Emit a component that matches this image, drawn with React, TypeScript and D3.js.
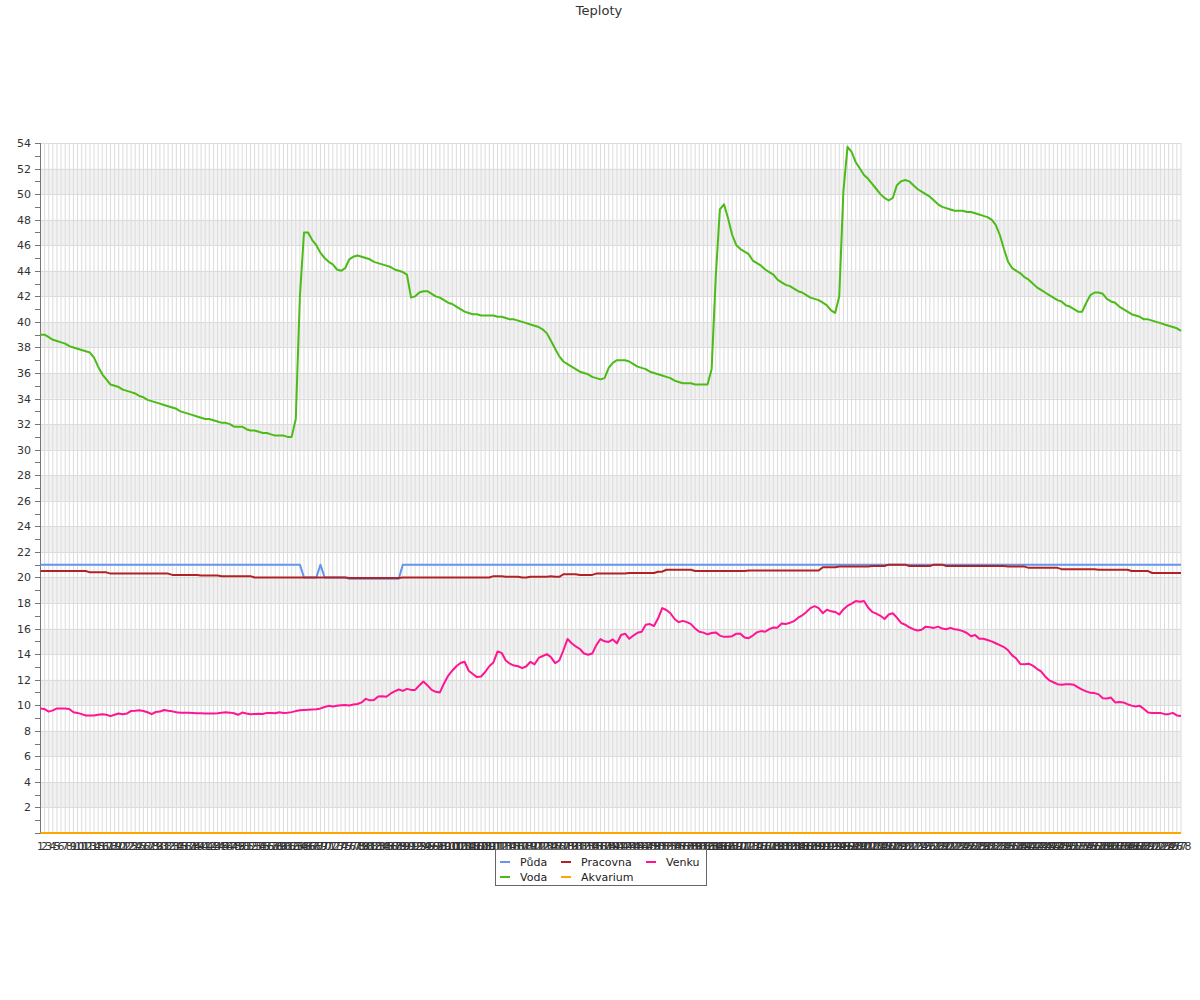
import * as React from 'react';
import { useEffect, useRef } from 'react';
import * as d3 from 'd3';

// category labels along the bottom (sample numbers)
const labels = d3.range(1, 279).map(String);

const puda = [
  21, 21, 21, 21, 21, 21, 21, 21, 21, 21,
  21, 21, 21, 21, 21, 21, 21, 21, 21, 21,
  21, 21, 21, 21, 21, 21, 21, 21, 21, 21,
  21, 21, 21, 21, 21, 21, 21, 21, 21, 21,
  21, 21, 21, 21, 21, 21, 21, 21, 21, 21,
  21, 21, 21, 21, 21, 21, 21, 21, 21, 21,
  21, 21, 21, 21, 20, 20, 20, 20, 21, 20,
  20, 20, 20, 20, 20, 19.9, 19.9, 19.9, 19.9, 19.9,
  19.9, 19.9, 19.9, 19.9, 19.9, 19.9, 19.9, 19.9, 21, 21,
  21, 21, 21, 21, 21, 21, 21, 21, 21, 21,
  21, 21, 21, 21, 21, 21, 21, 21, 21, 21,
  21, 21, 21, 21, 21, 21, 21, 21, 21, 21,
  21, 21, 21, 21, 21, 21, 21, 21, 21, 21,
  21, 21, 21, 21, 21, 21, 21, 21, 21, 21,
  21, 21, 21, 21, 21, 21, 21, 21, 21, 21,
  21, 21, 21, 21, 21, 21, 21, 21, 21, 21,
  21, 21, 21, 21, 21, 21, 21, 21, 21, 21,
  21, 21, 21, 21, 21, 21, 21, 21, 21, 21,
  21, 21, 21, 21, 21, 21, 21, 21, 21, 21,
  21, 21, 21, 21, 21, 21, 21, 21, 21, 21,
  21, 21, 21, 21, 21, 21, 21, 21, 21, 21,
  21, 21, 21, 21, 21, 21, 21, 21, 21, 21,
  21, 21, 21, 21, 21, 21, 21, 21, 21, 21,
  21, 21, 21, 21, 21, 21, 21, 21, 21, 21,
  21, 21, 21, 21, 21, 21, 21, 21, 21, 21,
  21, 21, 21, 21, 21, 21, 21, 21, 21, 21,
  21, 21, 21, 21, 21, 21, 21, 21, 21, 21,
  21, 21, 21, 21, 21, 21, 21, 21,
];

const voda = [
  39.0, 39.0, 38.8, 38.6, 38.5, 38.4, 38.3, 38.1, 38.0, 37.9,
  37.8, 37.7, 37.6, 37.2, 36.5, 35.9, 35.5, 35.1, 35.0, 34.9,
  34.7, 34.6, 34.5, 34.4, 34.2, 34.1, 33.9, 33.8, 33.7, 33.6,
  33.5, 33.4, 33.3, 33.2, 33.0, 32.9, 32.8, 32.7, 32.6, 32.5,
  32.4, 32.4, 32.3, 32.2, 32.1, 32.1, 32.0, 31.8, 31.8, 31.8,
  31.6, 31.5, 31.5, 31.4, 31.3, 31.3, 31.2, 31.1, 31.1, 31.1,
  31.0, 31.0, 32.4, 42.0, 47.0, 47.0, 46.4, 46.0, 45.4, 45.0,
  44.7, 44.5, 44.1, 44.0, 44.2, 44.9, 45.1, 45.2, 45.1, 45.0,
  44.9, 44.7, 44.6, 44.5, 44.4, 44.3, 44.1, 44.0, 43.9, 43.7,
  41.9, 42.0, 42.3, 42.4, 42.4, 42.2, 42.0, 41.9, 41.7, 41.5,
  41.4, 41.2, 41.0, 40.8, 40.7, 40.6, 40.6, 40.5, 40.5, 40.5,
  40.5, 40.4, 40.4, 40.3, 40.2, 40.2, 40.1, 40.0, 39.9, 39.8,
  39.7, 39.6, 39.4, 39.1, 38.5, 37.9, 37.3, 36.9, 36.7, 36.5,
  36.3, 36.1, 36.0, 35.9, 35.7, 35.6, 35.5, 35.6, 36.4, 36.8,
  37.0, 37.0, 37.0, 36.9, 36.7, 36.5, 36.4, 36.3, 36.1, 36.0,
  35.9, 35.8, 35.7, 35.6, 35.4, 35.3, 35.2, 35.2, 35.2, 35.1,
  35.1, 35.1, 35.1, 36.3, 43.5, 48.8, 49.2, 48.1, 46.8, 46.0,
  45.7, 45.5, 45.3, 44.8, 44.6, 44.4, 44.1, 43.9, 43.7, 43.3,
  43.1, 42.9, 42.8, 42.6, 42.4, 42.3, 42.1, 41.9, 41.8, 41.7,
  41.5, 41.3, 40.9, 40.7, 42.0, 50.2, 53.7, 53.3, 52.5, 52.0,
  51.5, 51.2, 50.8, 50.4, 50.0, 49.7, 49.5, 49.7, 50.7, 51.0,
  51.1, 51.0, 50.7, 50.4, 50.2, 50.0, 49.8, 49.5, 49.2, 49.0,
  48.9, 48.8, 48.7, 48.7, 48.7, 48.6, 48.6, 48.5, 48.4, 48.3,
  48.2, 48.0, 47.6, 46.8, 45.7, 44.7, 44.2, 44.0, 43.8, 43.5,
  43.3, 43.0, 42.7, 42.5, 42.3, 42.1, 41.9, 41.7, 41.6, 41.3,
  41.2, 41.0, 40.8, 40.8, 41.5, 42.1, 42.3, 42.3, 42.2, 41.8,
  41.6, 41.5, 41.2, 41.0, 40.8, 40.6, 40.5, 40.4, 40.2, 40.2,
  40.1, 40.0, 39.9, 39.8, 39.7, 39.6, 39.5, 39.3,
];

const pracovna = [
  20.5, 20.5, 20.5, 20.5, 20.5, 20.5, 20.5, 20.5, 20.5, 20.5,
  20.5, 20.5, 20.4, 20.4, 20.4, 20.4, 20.4, 20.3, 20.3, 20.3,
  20.3, 20.3, 20.3, 20.3, 20.3, 20.3, 20.3, 20.3, 20.3, 20.3,
  20.3, 20.3, 20.2, 20.2, 20.2, 20.2, 20.2, 20.2, 20.2, 20.15,
  20.15, 20.15, 20.15, 20.15, 20.1, 20.1, 20.1, 20.1, 20.1, 20.1,
  20.1, 20.1, 20.0, 20.0, 20.0, 20.0, 20.0, 20.0, 20.0, 20.0,
  20.0, 20.0, 20.0, 20.0, 20.0, 20.0, 20.0, 20.0, 20.0, 20.0,
  20.0, 20.0, 20.0, 20.0, 20.0, 19.95, 19.95, 19.95, 19.95, 19.95,
  19.95, 19.95, 19.95, 19.95, 19.95, 19.95, 19.95, 19.95, 20.0, 20.0,
  20.0, 20.0, 20.0, 20.0, 20.0, 20.0, 20.0, 20.0, 20.0, 20.0,
  20.0, 20.0, 20.0, 20.0, 20.0, 20.0, 20.0, 20.0, 20.0, 20.0,
  20.1, 20.1, 20.1, 20.05, 20.05, 20.05, 20.05, 20.0, 20.0, 20.05,
  20.05, 20.05, 20.05, 20.05, 20.1, 20.05, 20.05, 20.25, 20.25, 20.25,
  20.25, 20.2, 20.2, 20.2, 20.2, 20.3, 20.3, 20.3, 20.3, 20.3,
  20.3, 20.3, 20.3, 20.35, 20.35, 20.35, 20.35, 20.35, 20.35, 20.35,
  20.45, 20.45, 20.6, 20.6, 20.6, 20.6, 20.6, 20.6, 20.6, 20.5,
  20.5, 20.5, 20.5, 20.5, 20.5, 20.5, 20.5, 20.5, 20.5, 20.5,
  20.5, 20.5, 20.55, 20.55, 20.55, 20.55, 20.55, 20.55, 20.55, 20.55,
  20.55, 20.55, 20.55, 20.55, 20.55, 20.55, 20.55, 20.55, 20.55, 20.55,
  20.8, 20.8, 20.8, 20.8, 20.85, 20.85, 20.85, 20.85, 20.85, 20.85,
  20.85, 20.85, 20.9, 20.9, 20.9, 20.9, 21.0, 21.0, 21.0, 21.0,
  21.0, 20.9, 20.9, 20.9, 20.9, 20.9, 20.9, 21.0, 21.0, 21.0,
  20.9, 20.9, 20.9, 20.9, 20.9, 20.9, 20.9, 20.9, 20.9, 20.9,
  20.9, 20.9, 20.9, 20.9, 20.9, 20.85, 20.85, 20.85, 20.85, 20.85,
  20.75, 20.75, 20.75, 20.75, 20.75, 20.75, 20.75, 20.75, 20.65, 20.65,
  20.65, 20.65, 20.65, 20.65, 20.65, 20.65, 20.65, 20.6, 20.6, 20.6,
  20.6, 20.6, 20.6, 20.6, 20.6, 20.5, 20.5, 20.5, 20.5, 20.5,
  20.35, 20.35, 20.35, 20.35, 20.35, 20.35, 20.35, 20.35,
];

const akvarium = [
  0, 0, 0, 0, 0, 0, 0, 0, 0, 0, 0, 0, 0, 0, 0, 0, 0, 0, 0, 0,
  0, 0, 0, 0, 0, 0, 0, 0, 0, 0, 0, 0, 0, 0, 0, 0, 0, 0, 0, 0,
  0, 0, 0, 0, 0, 0, 0, 0, 0, 0, 0, 0, 0, 0, 0, 0, 0, 0, 0, 0,
  0, 0, 0, 0, 0, 0, 0, 0, 0, 0, 0, 0, 0, 0, 0, 0, 0, 0, 0, 0,
  0, 0, 0, 0, 0, 0, 0, 0, 0, 0, 0, 0, 0, 0, 0, 0, 0, 0, 0, 0,
  0, 0, 0, 0, 0, 0, 0, 0, 0, 0, 0, 0, 0, 0, 0, 0, 0, 0, 0, 0,
  0, 0, 0, 0, 0, 0, 0, 0, 0, 0, 0, 0, 0, 0, 0, 0, 0, 0, 0, 0,
  0, 0, 0, 0, 0, 0, 0, 0, 0, 0, 0, 0, 0, 0, 0, 0, 0, 0, 0, 0,
  0, 0, 0, 0, 0, 0, 0, 0, 0, 0, 0, 0, 0, 0, 0, 0, 0, 0, 0, 0,
  0, 0, 0, 0, 0, 0, 0, 0, 0, 0, 0, 0, 0, 0, 0, 0, 0, 0, 0, 0,
  0, 0, 0, 0, 0, 0, 0, 0, 0, 0, 0, 0, 0, 0, 0, 0, 0, 0, 0, 0,
  0, 0, 0, 0, 0, 0, 0, 0, 0, 0, 0, 0, 0, 0, 0, 0, 0, 0, 0, 0,
  0, 0, 0, 0, 0, 0, 0, 0, 0, 0, 0, 0, 0, 0, 0, 0, 0, 0, 0, 0,
  0, 0, 0, 0, 0, 0, 0, 0, 0, 0, 0, 0, 0, 0, 0, 0, 0, 0,
];

const venku = [
  9.75, 9.7, 9.5, 9.6, 9.75, 9.75, 9.75, 9.7, 9.45, 9.4,
  9.3, 9.2, 9.2, 9.2, 9.25, 9.3, 9.25, 9.15, 9.25, 9.35,
  9.3, 9.35, 9.55, 9.57, 9.6, 9.55, 9.45, 9.3, 9.47, 9.5,
  9.63, 9.57, 9.52, 9.45, 9.42, 9.41, 9.41, 9.4, 9.38, 9.37,
  9.35, 9.35, 9.36, 9.38, 9.42, 9.45, 9.42, 9.37, 9.25, 9.43,
  9.35, 9.3, 9.32, 9.33, 9.32, 9.4, 9.4, 9.37, 9.45, 9.4,
  9.42, 9.46, 9.54, 9.6, 9.62, 9.64, 9.66, 9.68, 9.75, 9.86,
  9.95, 9.9, 9.96, 10.0, 10.02, 9.98, 10.06, 10.1, 10.22, 10.5,
  10.38, 10.4, 10.68, 10.7, 10.66, 10.9, 11.08, 11.23, 11.12, 11.28,
  11.2, 11.2, 11.55, 11.85, 11.55, 11.2, 11.05, 11.0, 11.7, 12.3,
  12.7, 13.05, 13.3, 13.4, 12.7, 12.45, 12.2, 12.25, 12.6, 13.05,
  13.35, 14.2, 14.1, 13.5, 13.25, 13.1, 13.05, 12.9, 13.05, 13.4,
  13.2, 13.7, 13.85, 14.0, 13.75, 13.3, 13.5, 14.3, 15.18, 14.85,
  14.6, 14.4, 14.05, 13.95, 14.05, 14.7, 15.18, 15.0, 14.95, 15.15,
  14.85, 15.5, 15.6, 15.2, 15.45, 15.67, 15.75, 16.3, 16.35, 16.2,
  16.8, 17.6, 17.45, 17.2, 16.75, 16.5, 16.6, 16.5, 16.35, 16.0,
  15.75, 15.68, 15.55, 15.65, 15.7, 15.45, 15.35, 15.35, 15.4, 15.6,
  15.6, 15.3, 15.25, 15.45, 15.7, 15.8, 15.75, 15.95, 16.08, 16.07,
  16.4, 16.35, 16.45, 16.58, 16.85, 17.03, 17.3, 17.6, 17.75, 17.6,
  17.2, 17.48, 17.35, 17.3, 17.1, 17.5, 17.78, 17.95, 18.15, 18.1,
  18.15, 17.65, 17.3, 17.17, 17.0, 16.75, 17.1, 17.2, 16.85, 16.45,
  16.3, 16.1, 15.95, 15.85, 15.9, 16.15, 16.1, 16.05, 16.15, 16.0,
  15.95, 16.05, 15.95, 15.9, 15.8, 15.65, 15.4, 15.5, 15.2, 15.2,
  15.1, 15.0, 14.85, 14.7, 14.55, 14.3, 13.9, 13.65, 13.22, 13.2,
  13.25, 13.1, 12.85, 12.65, 12.25, 11.95, 11.8, 11.65, 11.6, 11.65,
  11.65, 11.6, 11.4, 11.22, 11.08, 10.97, 10.95, 10.85, 10.55, 10.52,
  10.6, 10.22, 10.25, 10.22, 10.08, 9.97, 9.9, 9.95, 9.7, 9.43,
  9.4, 9.4, 9.4, 9.3, 9.3, 9.4, 9.2, 9.15,
];

// drawing order follows the legend's column order
const seriesNames = ['Půda', 'Voda', 'Pracovna', 'Akvarium', 'Venku'];
const seriesValues = [puda, voda, pracovna, akvarium, venku];
const seriesColors = ['#6495ED', '#4CBB17', '#B22222', '#FFA500', '#FF1493'];

const yMax = 54;
const title = 'Teploty';

const FONT = '"DejaVu Sans", Verdana, sans-serif';

const Chart = () => {
  const node = useRef<SVGSVGElement>(null);

  useEffect(() => {
    const svg = d3.select(node.current);
    svg.selectAll('*').remove();

    const left = 40.5;
    const right = 1181;
    const top = 143;
    const bottom = 833;

    const x = d3.scalePoint<string>().domain(labels).range([left, right]);
    const y = d3.scaleLinear().domain([0, yMax]).range([bottom, top]);

    svg.append('rect').attr('width', 1200).attr('height', 1000).attr('fill', '#fff');

    svg.append('text')
      .attr('x', 599).attr('y', 15)
      .attr('text-anchor', 'middle')
      .attr('font-family', FONT).attr('font-size', 13).attr('fill', '#333')
      .text(title);

    const plot = svg.append('g');

    // zebra bands
    const bandStarts = d3.range(2, yMax - 2, 4);
    plot.selectAll('rect.band').data(bandStarts).enter().append('rect')
      .attr('class', 'band')
      .attr('x', left).attr('width', right - left)
      .attr('y', (d) => y(d + 2)).attr('height', (d) => y(d) - y(d + 2))
      .attr('fill', '#f1f1f1');

    // horizontal grid
    plot.selectAll('line.hgrid').data(d3.range(2, yMax + 1, 2)).enter().append('line')
      .attr('class', 'hgrid')
      .attr('x1', left).attr('x2', right)
      .attr('y1', (d) => Math.round(y(d)) + 0.5).attr('y2', (d) => Math.round(y(d)) + 0.5)
      .attr('stroke', '#dcdcdc');

    // vertical grid, one per sample
    plot.selectAll('line.vgrid').data(labels).enter().append('line')
      .attr('class', 'vgrid')
      .attr('x1', (d) => x(d)!).attr('x2', (d) => x(d)!)
      .attr('y1', top).attr('y2', bottom)
      .attr('stroke', '#dcdcdc');

    // y axis
    const axis = svg.append('g');
    axis.append('line')
      .attr('x1', 40.5).attr('x2', 40.5).attr('y1', top).attr('y2', bottom + 1)
      .attr('stroke', '#777');
    axis.selectAll('line.tick').data(d3.range(0, yMax + 1, 1)).enter().append('line')
      .attr('class', 'tick')
      .attr('x1', 35).attr('x2', 40.5)
      .attr('y1', (d) => Math.round(y(d)) + 0.5).attr('y2', (d) => Math.round(y(d)) + 0.5)
      .attr('stroke', '#777');
    axis.selectAll('text.ylab').data(d3.range(2, yMax + 1, 2)).enter().append('text')
      .attr('class', 'ylab')
      .attr('x', 31).attr('y', (d) => y(d) + 4)
      .attr('text-anchor', 'end')
      .attr('font-family', FONT).attr('font-size', 11).attr('fill', '#333')
      .text((d) => d);

    // x labels (crowded, as in the original)
    axis.selectAll('text.xlab').data(labels).enter().append('text')
      .attr('class', 'xlab')
      .attr('x', (d) => x(d)!).attr('y', 850)
      .attr('text-anchor', 'middle')
      .attr('font-family', FONT).attr('font-size', 11).attr('fill', '#333')
      .text((d) => d);

    // series
    const line = d3.line<number>()
      .x((_, i) => x(labels[i])!)
      .y((d) => y(d));

    svg.append('g').selectAll('path').data(seriesValues).enter().append('path')
      .attr('d', (d) => line(d))
      .attr('fill', 'none')
      .attr('stroke', (_, i) => seriesColors[i])
      .attr('stroke-width', 2)
      .attr('stroke-linejoin', 'round');

    // legend: 3 columns, filled column by column in 2 rows
    const legend = svg.append('g');
    legend.append('rect')
      .attr('x', 495.5).attr('y', 849.5).attr('width', 211).attr('height', 36)
      .attr('fill', '#fff').attr('stroke', '#666');
    const colX = [500, 561, 646];
    const rowY = [862, 877];
    seriesNames.forEach((name, i) => {
      const col = Math.floor(i / 2);
      const row = i % 2;
      const g = legend.append('g');
      g.append('line')
        .attr('x1', colX[col]).attr('x2', colX[col] + 10)
        .attr('y1', rowY[row]).attr('y2', rowY[row])
        .attr('stroke', seriesColors[i]).attr('stroke-width', 2);
      g.append('text')
        .attr('x', colX[col] + 20).attr('y', rowY[row] + 4)
        .attr('font-family', FONT).attr('font-size', 11).attr('fill', '#222')
        .text(name);
    });
  }, []);

  return <svg ref={node} width={1200} height={1000} style={{ display: 'block' }} />;
};

export default function App() {
  return (
    <div style={{ position: 'absolute', left: 0, top: 0 }}>
      <Chart />
    </div>
  );
}
